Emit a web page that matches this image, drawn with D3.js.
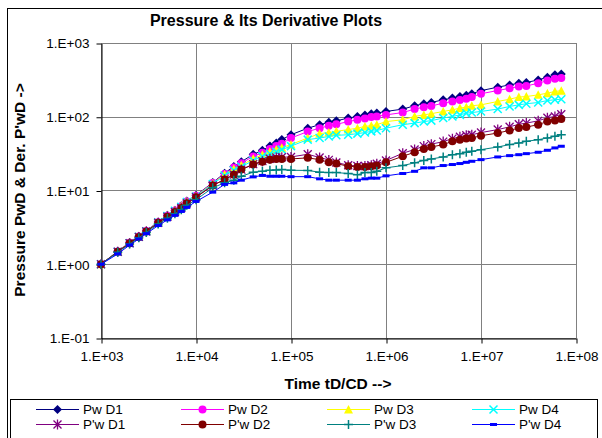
<!DOCTYPE html>
<html><head><meta charset="utf-8">
<script src="https://cdn.jsdelivr.net/npm/d3@7"></script>
<style>body{margin:0;background:#fff}svg{display:block}text{font-family:"Liberation Sans",Arial,sans-serif}</style>
</head><body><svg id="c" width="602" height="438"></svg>
<script>
const times = [1e3,1.5e3,2e3,2.5e3,3e3,4e3,5e3,6e3,7e3,8e3,
  1e4,1.5e4,2e4,2.5e4,3e4,4e4,5e4,6e4,7e4,8e4,
  1e5,1.5e5,2e5,2.5e5,3e5,4e5,5e5,6e5,7e5,8e5,
  1e6,1.5e6,2e6,2.5e6,3e6,4e6,5e6,6e6,7e6,8e6,
  1e7,1.5e7,2e7,2.5e7,3e7,4e7,5e7,6e7,7e7];
const pwD1 = [1.0,1.50,1.97,2.40,2.85,3.75,4.6,5.4,6.2,7.2,
  8.6,12.8,17.2,21.2,24.5,31,35,40,44,49,
  57,70,78,84,88,96,101,106,110,112,
  118,127,141,150,156,170,179,188,196,205,
  226,252,270,285,291,316,344,370,381];
const pwD2 = [1.0,1.49,1.95,2.38,2.82,3.72,4.55,5.35,6.1,7.1,
  8.5,12.6,16.8,20.5,23.5,29,32.5,36.5,40,43,
  51.5,63,70,75.5,79,86,91,95,99,101,
  106,114,127,135,140,153,161,169,176,185,
  205,227,243,257,262,284,309,327,335];
const pwD3 = [1.0,1.49,1.95,2.38,2.82,3.72,4.55,5.35,6.1,7.1,
  8.4,12.4,16.5,19.5,22,27,30.5,33.5,36,38,
  42,51.5,59,61,63.4,67,70,74,75.6,78,
  86,91,101,106,110,118,124,131,135,141,
  145,161,173,185,188,198,209,220,226];
const pwD4 = [1.0,1.48,1.93,2.36,2.8,3.7,4.5,5.3,6.0,7.0,
  8.3,12.2,16,18.8,21,25.5,29,31.5,33.5,35.8,
  40,49,51.5,54,56,57,59,61,63.4,65,
  70,78,82,86,88.6,96,101,106,112,114,
  118,127,138,145,150,156,166,170,173];
const dpwD1 = [1.0,1.48,1.93,2.35,2.78,3.65,4.4,5.1,5.8,6.7,
  8.1,11.7,14.1,16.4,19.2,22.8,25,27,28,28.3,
  28.5,31,28,26,24,22,21.5,21.5,22,23,
  25.5,32,36,40,42.5,46,50.5,53.5,56,57,
  61,67,73,79,82,88,97,101,108];
const dpwD2 = [1.0,1.48,1.93,2.35,2.78,3.65,4.4,5.1,5.8,6.7,
  8.1,11.7,14.1,16.4,19.2,22.5,24.5,26.2,26.8,26.8,
  26.8,27.7,26.2,24.1,23.2,21.3,20.9,20.9,21.3,21.8,
  24.1,29.1,33,36.6,38.9,41.9,46.4,48.9,50.9,51.5,
  55.3,60.1,65.3,70.3,72.6,78,86.5,89,93];
const dpwD3 = [1.0,1.45,1.88,2.28,2.7,3.5,4.2,4.85,5.5,6.3,
  7.5,10.9,12.7,13.8,15.6,17.7,18.2,18.8,19.0,19.2,
  18.8,18.7,17.7,17.5,17.5,17.0,16.4,17.5,17.5,18.2,
  20.3,21.8,23.7,25.6,26.8,28.5,30.6,31.6,33,34,
  35.8,38.9,41.9,44,46.4,48.9,51.5,54.2,57.1];
const dpwD4 = [1.0,1.38,1.82,2.2,2.6,3.35,4.0,4.6,5.2,5.9,
  7.1,9.5,12.1,12.7,13.8,15.3,16.0,15.6,15.6,15.6,
  15.4,15.4,14.4,13.8,13.8,13.8,13.8,14.4,14.7,14.7,
  15.8,17,18.2,20.3,20.3,21.8,22.5,23.2,24.1,24.9,
  26.2,28.5,29.7,30.6,31.6,33,35.1,37.8,39.8];
const seriesNames = ["Pw D1","Pw D2","Pw D3","Pw D4","P'w D1","P'w D2","P'w D3","P'w D4"];
const xTicks = [1e3,1e4,1e5,1e6,1e7,1e8];
const xTickLabels = ["1.E+03","1.E+04","1.E+05","1.E+06","1.E+07","1.E+08"];
const yTicks = [1e-1,1e0,1e1,1e2,1e3];
const yTickLabels = ["1.E-01","1.E+00","1.E+01","1.E+02","1.E+03"];
const titleText = "Pressure & Its Derivative Plots";
const xTitle = "Time tD/CD -->";
const yTitle = "Pressure PwD & Der. P'wD ->";

const seriesData = [pwD1,pwD2,pwD3,pwD4,dpwD1,dpwD2,dpwD3,dpwD4];
const styles = [
  {color:"#000080",marker:"diamond"},
  {color:"#FF00FF",marker:"circle"},
  {color:"#FFFF00",marker:"triangle"},
  {color:"#00FFFF",marker:"x"},
  {color:"#800080",marker:"star"},
  {color:"#800000",marker:"circle"},
  {color:"#008080",marker:"plus"},
  {color:"#0000FF",marker:"dash"}
];

const svg = d3.select("#c");
const L=101,R=576,T=43,B=338;
const x = d3.scaleLog().domain([1e3,1e8]).range([L,R]);
const y = d3.scaleLog().domain([1e-1,1e3]).range([B,T]);

svg.append("rect").attr("x",7.5).attr("y",8.5).attr("width",700).attr("height",500)
  .attr("fill","#fff").attr("stroke","#000").attr("stroke-width",1);

svg.append("text").attr("x",266).attr("y",26).attr("text-anchor","middle")
  .attr("font-size",16).attr("font-weight","bold").text(titleText);

const grid = svg.append("g");
grid.selectAll("line.h").data(yTicks).join("line")
  .attr("x1",L).attr("x2",R).attr("y1",d=>Math.round(y(d))+0.5).attr("y2",d=>Math.round(y(d))+0.5)
  .attr("stroke","#808080").attr("stroke-width",1);
grid.selectAll("line.v").data(xTicks).join("line")
  .attr("y1",T).attr("y2",B).attr("x1",d=>Math.round(x(d))+0.5).attr("x2",d=>Math.round(x(d))+0.5)
  .attr("stroke","#808080").attr("stroke-width",1);

const xAxis = d3.axisBottom(x).tickValues(xTicks).tickFormat((d,i)=>xTickLabels[i]).tickSize(5).tickSizeOuter(0).tickPadding(8);
const yAxis = d3.axisLeft(y).tickValues(yTicks).tickFormat((d,i)=>yTickLabels[i]).tickSize(5).tickSizeOuter(0).tickPadding(7);
const gx = svg.append("g").attr("transform",`translate(0.5,${Math.round(B)+0.5})`).call(xAxis);
const gy = svg.append("g").attr("transform",`translate(${L+0.5},0.5)`).call(yAxis);
[gx,gy].forEach(g=>{
  g.selectAll("text").attr("font-size",13.5).attr("font-family","Liberation Sans, Arial, sans-serif").attr("fill","#000");
  g.selectAll("line,path").attr("stroke","#000");
});

svg.append("text").attr("x",338).attr("y",389).attr("text-anchor","middle")
  .attr("font-size",15.5).attr("font-weight","bold").text(xTitle);
svg.append("text").attr("transform","translate(25,190) rotate(-90)").attr("text-anchor","middle")
  .attr("font-size",15.5).attr("font-weight","bold").text(yTitle);

function marker(g, type, color, cx, cy){
  switch(type){
    case "diamond": g.append("path").attr("d",`M${cx},${cy-4.5}L${cx+4.5},${cy}L${cx},${cy+4.5}L${cx-4.5},${cy}Z`).attr("fill",color); break;
    case "circle": g.append("circle").attr("cx",cx).attr("cy",cy).attr("r",4).attr("fill",color); break;
    case "triangle": g.append("path").attr("d",`M${cx},${cy-4.5}L${cx+4.5},${cy+4}L${cx-4.5},${cy+4}Z`).attr("fill",color); break;
    case "x": g.append("path").attr("d",`M${cx-4},${cy-4}L${cx+4},${cy+4}M${cx-4},${cy+4}L${cx+4},${cy-4}`).attr("stroke",color).attr("stroke-width",1.5).attr("fill","none"); break;
    case "star": g.append("path").attr("d",`M${cx-4},${cy-4}L${cx+4},${cy+4}M${cx-4},${cy+4}L${cx+4},${cy-4}M${cx},${cy-5}L${cx},${cy+5}`).attr("stroke",color).attr("stroke-width",1.3).attr("fill","none"); break;
    case "plus": g.append("path").attr("d",`M${cx-4.5},${cy}L${cx+4.5},${cy}M${cx},${cy-4.5}L${cx},${cy+4.5}`).attr("stroke",color).attr("stroke-width",1.5).attr("fill","none"); break;
    case "dash": g.append("rect").attr("x",cx-3.5).attr("y",cy-1.5).attr("width",7).attr("height",3).attr("fill",color); break;
  }
}

const line = d3.line().x(d=>x(d[0])).y(d=>y(d[1]));
const plot = svg.append("g");
seriesData.forEach((vals,si)=>{
  const pts = times.map((t,i)=>[t,vals[i]]);
  const g = plot.append("g");
  g.append("path").attr("d",line(pts)).attr("fill","none").attr("stroke",styles[si].color).attr("stroke-width",1);
  pts.forEach(p=>marker(g, styles[si].marker, styles[si].color, x(p[0]), y(p[1])));
});

const lg = svg.append("g");
lg.append("rect").attr("x",10.5).attr("y",399.5).attr("width",587).attr("height",60).attr("fill","#fff").attr("stroke","#000");
const colX = [36,181,327,472];
const rowY = [409,424];
seriesNames.forEach((name,i)=>{
  const c = i%4, r = Math.floor(i/4);
  const x0 = colX[c], yy = rowY[r];
  lg.append("line").attr("x1",x0).attr("x2",x0+43).attr("y1",yy+0.5).attr("y2",yy+0.5).attr("stroke",styles[i].color).attr("stroke-width",1);
  marker(lg, styles[i].marker, styles[i].color, x0+21.5, yy+0.5);
  lg.append("text").attr("x",x0+47).attr("y",yy+5).attr("font-size",13.5).text(name);
});
</script></body></html>
